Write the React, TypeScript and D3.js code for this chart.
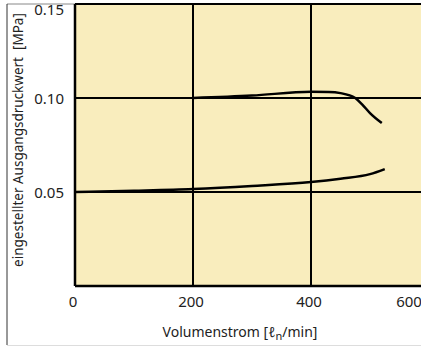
import React from 'react';
import * as d3 from 'd3';

// Volumenstrom [ln/min] vs. eingestellter Ausgangsdruckwert [MPa]
const upperFlow = [200, 300, 400, 430, 450, 475, 487, 500, 520];
const upperPressure = [0.1, 0.1013, 0.1033, 0.1032, 0.1026, 0.1, 0.0965, 0.092, 0.0867];

const lowerFlow = [0, 100, 200, 300, 400, 450, 500, 525];
const lowerPressure = [0.05, 0.0507, 0.0516, 0.0532, 0.0553, 0.0571, 0.0595, 0.0622];

const xTicks = [0, 200, 400, 600];
const yTicks = [0.05, 0.1, 0.15];
const yTickLabels = ['0.05', '0.10', '0.15'];

const W = 421;
const H = 347;
const FONT = '"Noto Sans", Lato, sans-serif';

const App = () => {
  const left = 75;
  const top = 4;
  const bottom = 286;

  const x = d3.scaleLinear().domain([0, 600]).range([left, left + 354]);
  const y = d3.scaleLinear().domain([0, 0.15]).range([bottom, top]);

  const line = d3
    .line<[number, number]>()
    .x((d) => x(d[0]))
    .y((d) => y(d[1]))
    .curve(d3.curveMonotoneX);

  const upper = upperFlow.map((v, i) => [v, upperPressure[i]] as [number, number]);
  const lower = lowerFlow.map((v, i) => [v, lowerPressure[i]] as [number, number]);

  // the last tick label is pulled in a little so it stays mostly inside the frame
  const tickLabelX = (t: number) => (t === 600 ? W - 12 : x(t) - 2);

  return (
    <div style={{ position: 'absolute', left: 0, top: 0 }}>
      <svg width={W} height={H} style={{ display: 'block', background: '#fff' }}>
        {/* outer frame */}
        <line x1={7} y1={4} x2={left} y2={4} stroke="#888" strokeWidth={1} />
        <line x1={7} y1={4} x2={7} y2={345} stroke="#333" strokeWidth={1} />
        <line x1={7} y1={345.5} x2={W} y2={345.5} stroke="#ddd" strokeWidth={1} />

        {/* plot area */}
        <rect x={left} y={top} width={x(600) - left + 10} height={bottom - top} fill="#f9edbd" />

        {/* grid */}
        {xTicks.map((t) => (
          <line key={'gx' + t} x1={x(t)} x2={x(t)} y1={top} y2={bottom} stroke="#000" strokeWidth={2} />
        ))}
        {yTicks.map((t) => (
          <line key={'gy' + t} x1={left} x2={W + 10} y1={y(t)} y2={y(t)} stroke="#000" strokeWidth={2} />
        ))}
        <line x1={left} x2={W + 10} y1={bottom} y2={bottom} stroke="#000" strokeWidth={2.5} />
        <line x1={left} x2={left} y1={top} y2={bottom} stroke="#000" strokeWidth={2.5} />

        {/* curves */}
        <path d={line(upper) || ''} fill="none" stroke="#000" strokeWidth={2.5} />
        <path d={line(lower) || ''} fill="none" stroke="#000" strokeWidth={2.5} />

        {/* y tick labels */}
        {yTicks.map((t, i) => (
          <text
            key={'ty' + t}
            x={64}
            y={t === 0.15 ? y(t) + 6 : y(t) + 1}
            dy="0.35em"
            textAnchor="end"
            fontFamily={FONT}
            fontSize={15}
            fill="#222"
          >
            {yTickLabels[i]}
          </text>
        ))}

        {/* x tick labels */}
        {xTicks.map((t) => (
          <text
            key={'tx' + t}
            x={tickLabelX(t)}
            y={302}
            dy="0.35em"
            textAnchor="middle"
            fontFamily={FONT}
            fontSize={15}
            fill="#222"
          >
            {t}
          </text>
        ))}

        {/* axis titles */}
        <text x={240} y={332} dy="0.35em" textAnchor="middle" fontFamily={FONT} fontSize={14} fill="#222">
          Volumenstrom [
          <tspan>ℓ</tspan>
          <tspan dy={3} fontSize={11}>n</tspan>
          <tspan dy={-3}>/min]</tspan>
        </text>
        <text
          transform="translate(18,140) rotate(-90)"
          dy="0.35em"
          textAnchor="middle"
          fontFamily={FONT}
          fontSize={13.5}
          fill="#222"
          xmlSpace="preserve"
        >
          eingestellter Ausgangsdruckwert  [MPa]
        </text>
      </svg>
    </div>
  );
};

export default App;
